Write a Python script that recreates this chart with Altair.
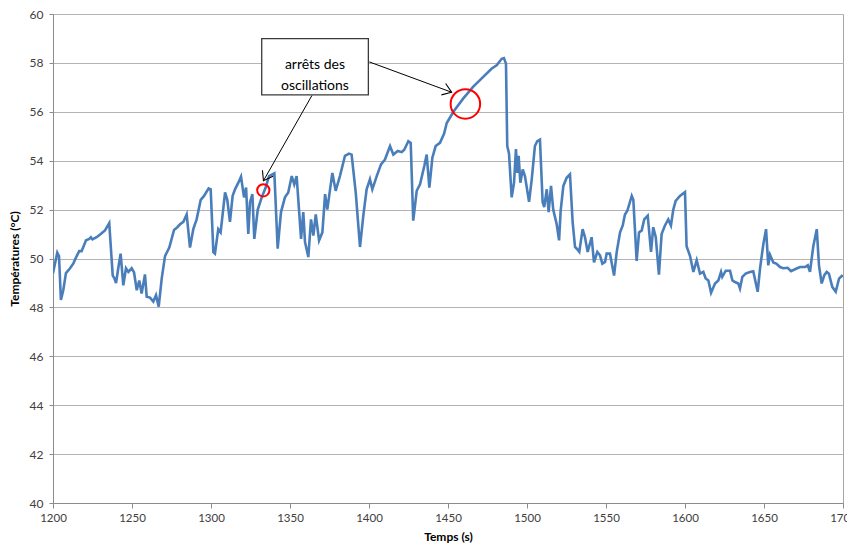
import altair as alt
import pandas as pd

# --- series (time in s, temperature in °C) ---
temps_s = [1200, 1202.7, 1203.8, 1205, 1206.5, 1208.2, 1210.8, 1212.9, 1215, 1216.6, 1218.1, 1220.9, 1223, 1224, 1225,
           1227.6, 1230.2, 1232.9, 1235.6, 1237.8, 1238.8, 1239.9, 1241.3, 1242.8, 1244.5, 1246.2, 1247.7, 1249.8,
           1251.3, 1253, 1254.6, 1256.1, 1258.2, 1259.3, 1261.4, 1263.5, 1265.2, 1266.9, 1268.8, 1270.9, 1273.6,
           1276.6, 1278.7, 1280.4, 1282.5, 1284.6, 1286.7, 1288.8, 1290.9, 1293.5, 1295.6, 1298.5, 1299.8, 1301.5,
           1302.5, 1304.6, 1306.1, 1308.9, 1310.3, 1312, 1313.7, 1315.2, 1317.3, 1319, 1320.9, 1322.2, 1323.6,
           1324.7, 1326.2, 1327.4, 1329.6, 1332.1, 1334.6, 1336.7, 1340.1, 1342.2, 1344.3, 1346.8, 1348.9, 1351.1,
           1352.7, 1354.2, 1357, 1358.4, 1359.5, 1361.6, 1363.3, 1364.8, 1366.3, 1368.4, 1370.5, 1372.2, 1373.6,
           1376.8, 1378.9, 1381.6, 1384.8, 1387.3, 1389, 1391.6, 1394.3, 1396.4, 1398.5, 1400.6, 1402.1, 1404.9,
           1407.6, 1410.1, 1413.3, 1415.4, 1418.2, 1420.7, 1422.3, 1424.9, 1426.4, 1428, 1430.2, 1432.3, 1435,
           1436.5, 1438.2, 1440.1, 1442.2, 1444.9, 1447.5, 1449.2, 1453.4, 1459.7, 1466, 1472.3, 1477.7, 1480.8,
           1484, 1485.4, 1486.7, 1487.5, 1488.6, 1490.3, 1491.8, 1493, 1493.9, 1494.7, 1495.8, 1497.3, 1498.7,
           1501.3, 1503, 1505, 1506.5, 1508.2, 1509.9, 1510.9, 1512.5, 1513.7, 1515.2, 1516.6, 1518.8, 1520.3,
           1521.3, 1523, 1525.1, 1527.2, 1528.9, 1530.4, 1531.5, 1533.1, 1535.2, 1536.7, 1538.4, 1540.9, 1542.4,
           1544.5, 1546.2, 1547.7, 1549.4, 1550.4, 1552.5, 1555.1, 1556.8, 1558.9, 1560.6, 1562, 1563.5, 1566.3,
           1567.3, 1569.4, 1570.9, 1572.6, 1574.2, 1576.4, 1578.5, 1579.9, 1581.5, 1583.5, 1585.2, 1587.3, 1589.4,
           1591.1, 1592.6, 1594.1, 1596.8, 1600, 1601, 1603.2, 1605.3, 1607.4, 1609.5, 1611.6, 1613.1, 1614.8,
           1616.5, 1619, 1621.1, 1622.8, 1623.6, 1625.8, 1628.5, 1630, 1631.6, 1633.7, 1634.8, 1636.3, 1638.4,
           1641.1, 1643.2, 1646, 1647.5, 1649.6, 1651.3, 1652.7, 1653.8, 1655.9, 1658, 1660.1, 1662.2, 1665,
           1667.1, 1669.6, 1672.8, 1676, 1677.7, 1679.1, 1681.2, 1683.4, 1684.8, 1686.5, 1688.2, 1689.7, 1691.1,
           1693.2, 1695.4, 1697.5, 1699.2, 1700]
temperatures = [49.4, 50.24, 50.1, 48.3, 48.7, 49.4, 49.6, 49.8, 50.1, 50.3, 50.3, 50.75, 50.8, 50.87, 50.78,
                50.87, 51.0, 51.15, 51.45, 49.3, 49.2, 49.0, 49.6, 50.2, 48.9, 49.6, 49.45, 49.6,
                49.43, 48.7, 49.1, 48.57, 49.35, 48.44, 48.4, 48.24, 48.5, 48.03, 49.18, 50.1, 50.45,
                51.17, 51.28, 51.4, 51.5, 51.8, 50.45, 51.2, 51.6, 52.4, 52.56, 52.87, 52.83, 50.26,
                50.2, 51.2, 51.07, 52.7, 52.4, 51.5, 52.56, 52.83, 53.1, 53.35, 52.5, 52.9, 51.0,
                52.3, 52.63, 50.8, 52.0, 52.5, 52.9, 53.37, 53.48, 50.4, 51.9, 52.5, 52.7, 53.37,
                53.03, 53.37, 50.8, 51.9, 50.67, 50.06, 51.6, 50.94, 51.8, 50.74, 51.07, 52.63, 52.0,
                53.5, 52.77, 53.37, 54.2, 54.29, 54.25, 52.7, 50.47, 51.75, 52.83, 53.24, 52.83, 53.37,
                53.85, 54.05, 54.6, 54.25, 54.4, 54.35, 54.45, 54.8, 54.73, 51.55, 52.77, 53.03, 53.78,
                54.25, 52.9, 54.12, 54.6, 54.73, 55.1, 55.54, 56.0, 56.55, 57.03, 57.43, 57.77, 57.9,
                58.17, 58.2, 57.97, 54.6, 54.3, 52.5, 53.1, 54.48, 53.5, 54.2, 53.1, 53.64, 53.37,
                52.32, 53.24, 54.6, 54.8, 54.86, 52.3, 52.1, 52.83, 51.9, 52.97, 52.0, 51.4, 50.74,
                51.95, 52.97, 53.3, 53.44, 51.48, 50.47, 50.4, 50.27, 51.2, 50.87, 50.27, 50.87, 49.84,
                50.27, 50.13, 49.79, 49.86, 50.2, 50.2, 49.3, 50.27, 51.07, 51.35, 51.8, 51.95, 52.56,
                52.4, 49.9, 51.07, 51.15, 51.6, 51.75, 50.27, 51.28, 50.87, 49.34, 51.0, 51.35, 51.6,
                51.35, 52.0, 52.36, 52.56, 52.72, 50.5, 50.1, 49.45, 49.93, 49.38, 49.45, 49.18, 49.1,
                48.6, 48.98, 49.1, 49.45, 49.25, 49.5, 49.5, 49.1, 49.04, 48.98, 48.77, 49.25, 49.38,
                49.45, 49.48, 48.64, 49.6, 50.6, 51.2, 49.72, 50.15, 49.84, 49.78, 49.65, 49.6, 49.62,
                49.48, 49.56, 49.65, 49.65, 49.72, 49.45, 50.5, 51.2, 49.72, 48.98, 49.32, 49.45, 49.38,
                48.84, 48.64, 49.18, 49.29, 49.25]

x_ticks = list(range(1200, 1701, 50))
y_ticks = list(range(40, 61, 2))

# --- annotation (data coordinates) ---
label_text = "arrêts des\noscillations"
label_box = {"t": [1332.1], "t2": [1399.6], "T": [56.69], "T2": [58.99]}
label_pos = {"t": [1365.8], "T": [57.92]}
arrow_start_t = [1363.9, 1400.2]
arrow_start_T = [56.67, 58.04]
arrow_end_t = [1333.2, 1452.3]
arrow_end_T = [53.18, 56.80]
arrow_angle = [119.4, 20.4]
circle_t = [1333.1, 1461.0]
circle_T = [52.79, 56.32]
circle_size = [150, 870]

FONT = "Lato"
AX = "#8c8c8c"

series = pd.DataFrame({"t": temps_s, "T": temperatures})

xscale = alt.Scale(domain=[1200, 1700], nice=False, zero=False)
yscale = alt.Scale(domain=[40, 60], nice=False, zero=False)
xaxis = alt.Axis(values=x_ticks, grid=False, title="Temps (s)", format="d",
                 domainColor=AX, tickColor=AX, tickSize=5, labelColor="#404040",
                 labelFont=FONT, labelFontSize=11.5, labelPadding=4,
                 titleFont=FONT, titleFontSize=12, titleFontWeight="bold", titleColor="#000000",
                 titlePadding=8, labelFlush=False)
yaxis = alt.Axis(values=y_ticks, grid=True, gridColor="#b4b4b4", title="Températures (°C)", format="d",
                 domainColor=AX, tickColor=AX, tickSize=4, labelColor="#404040",
                 labelFont=FONT, labelFontSize=12, labelPadding=6,
                 titleFont=FONT, titleFontSize=12, titleFontWeight="bold", titleColor="#000000",
                 titlePadding=8)

X = alt.X("t:Q", scale=xscale, axis=xaxis)
Y = alt.Y("T:Q", scale=yscale, axis=yaxis)

line = alt.Chart(series).mark_line(color="#4a7ebb", strokeWidth=2.6, clip=True).encode(x=X, y=Y)

box = alt.Chart(pd.DataFrame(label_box)).mark_rect(fill="white", stroke="#3a3a3a", strokeWidth=1.3).encode(
    x=X, x2="t2:Q", y=Y, y2="T2:Q")

label = alt.Chart(pd.DataFrame(label_pos)).mark_text(
    text=label_text, lineBreak="\n", font=FONT, fontSize=14, color="#000000",
    align="center", baseline="middle", lineHeight=21).encode(x=X, y=Y)

arrows = pd.DataFrame({"t": arrow_start_t, "T": arrow_start_T, "t2": arrow_end_t, "T2": arrow_end_T,
                       "angle": arrow_angle, "te": arrow_end_t, "Te": arrow_end_T})
arrow_lines = alt.Chart(arrows).mark_rule(color="#000000", strokeWidth=1).encode(
    x=X, y=Y, x2="t2:Q", y2="T2:Q")
arrow_heads = alt.Chart(arrows).mark_point(
    shape="M-1,-0.7L0,0L-1,0.7", filled=False, color="#000000", strokeWidth=1.1, size=300, opacity=1).encode(
    x=alt.X("te:Q", scale=xscale, axis=xaxis), y=alt.Y("Te:Q", scale=yscale, axis=yaxis),
    angle=alt.Angle("angle:Q", scale=None))

circles = alt.Chart(pd.DataFrame({"t": circle_t, "T": circle_T, "s": circle_size})).mark_point(
    shape="circle", filled=False, color="#ff0000", strokeWidth=2, opacity=1).encode(
    x=X, y=Y, size=alt.Size("s:Q", scale=None))

chart = alt.layer(line, arrow_lines, arrow_heads, circles, box, label).properties(
    width=790, height=489,
    autosize=alt.AutoSizeParams(type="none"),
    padding={"left": 45, "top": 6, "right": 4, "bottom": 40},
    background="white",
).configure_view(stroke="#a6a6a6", strokeWidth=1)

chart.save("out.html", embed_options={"renderer": "svg", "actions": False})
